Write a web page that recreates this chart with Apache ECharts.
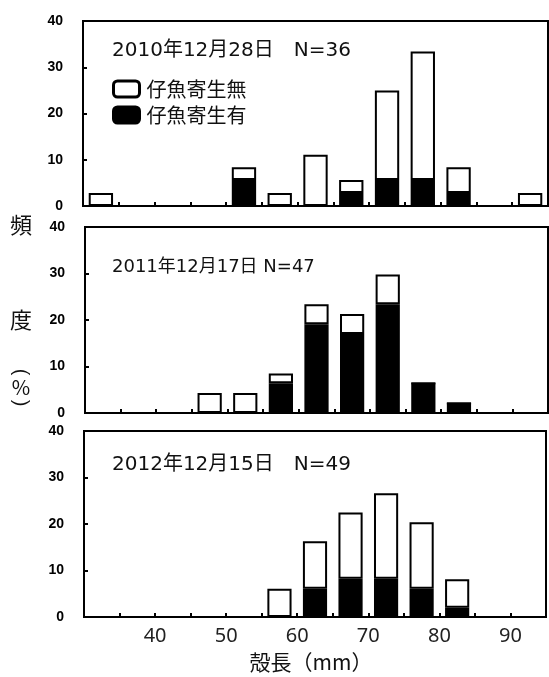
<!DOCTYPE html>
<html>
<head>
<meta charset="utf-8">
<script src="https://cdn.jsdelivr.net/npm/echarts@6/dist/echarts.min.js"></script>
<style>
html,body{margin:0;padding:0;background:#fff;}
#c{width:549px;height:677px;}
</style>
</head>
<body>
<div id="c"></div>
<script>
// size classes (mm), 5 mm bins
const categories = ['30-35','35-40','40-45','45-50','50-55','55-60','60-65','65-70','70-75','75-80','80-85','85-90','90-95'];
const xTickLabels = [40, 50, 60, 70, 80, 90];
const yTickLabels = [0, 10, 20, 30, 40];

const panelTitles = ['2010年12月28日　N=36', '2011年12月17日 N=47', '2012年12月15日　N=49'];

// % frequency, 仔魚寄生有 (with larval parasite)
const with2010 = [0, 0, 0, 0, 5.6, 0, 0, 2.8, 5.6, 5.6, 2.8, 0, 0];
const with2011 = [0, 0, 0, 0, 0, 6.4, 19.1, 17.0, 23.4, 6.4, 2.1, 0, 0];
const with2012 = [0, 0, 0, 0, 0, 0, 6.1, 8.2, 8.2, 6.1, 2.0, 0, 0];
// % frequency, 仔魚寄生無 (without larval parasite)
const without2010 = [2.8, 0, 0, 0, 2.8, 2.8, 11.1, 2.8, 19.4, 27.8, 5.6, 0, 2.8];
const without2011 = [0, 0, 0, 4.3, 4.3, 2.1, 4.3, 4.3, 6.4, 0, 0, 0, 0];
const without2012 = [0, 0, 0, 0, 0, 6.1, 10.2, 14.3, 18.4, 14.3, 6.1, 0, 0];

const withSets = [with2010, with2011, with2012];
const withoutSets = [without2010, without2011, without2012];

const NAME_WITH = '仔魚寄生有';
const NAME_WITHOUT = '仔魚寄生無';

const grids = [
  {left: 83, right: 1, top: 21, height: 185},
  {left: 85, right: 1, top: 227, height: 186},
  {left: 84, right: 1, top: 431, height: 186}
];
const titleY = [51, 267, 465];
const titleSize = [20, 18, 20];
const FONT_MIX = '"DejaVu Sans", "Noto Sans CJK JP", sans-serif';
const FONT_CJK = '"Noto Sans CJK JP", sans-serif';

const chart = echarts.init(document.getElementById('c'), null, {renderer: 'canvas'});

const xAxes = [], yAxes = [], series = [], graphics = [];
for (let i = 0; i < 3; i++) {
  xAxes.push({
    type: 'category', gridIndex: i, data: categories, boundaryGap: true,
    axisLine: {show: true, lineStyle: {color: '#000', width: 2}},
    axisTick: {show: true, inside: true, length: 4, interval: 0, alignWithLabel: false, lineStyle: {color: '#000', width: 2}},
    axisLabel: {show: false}, splitLine: {show: false}
  });
  yAxes.push({
    type: 'value', gridIndex: i, min: yTickLabels[0], max: yTickLabels[yTickLabels.length - 1], interval: 10,
    axisLine: {show: true, lineStyle: {color: '#000', width: 2}},
    axisTick: {show: true, inside: true, length: 4, lineStyle: {color: '#000', width: 2}},
    axisLabel: {show: true, margin: 20, color: '#000', fontSize: 14, fontWeight: 'bold', fontFamily: 'Liberation Sans'},
    splitLine: {show: false}
  });
  series.push({
    type: 'bar', name: NAME_WITH, stack: 'p' + i, xAxisIndex: i, yAxisIndex: i,
    data: withSets[i], barCategoryGap: '32%',
    itemStyle: {color: '#000', borderColor: '#000', borderWidth: 2}
  });
  series.push({
    type: 'bar', name: NAME_WITHOUT, stack: 'p' + i, xAxisIndex: i, yAxisIndex: i,
    data: withoutSets[i], barCategoryGap: '32%',
    itemStyle: {color: '#fff', borderColor: '#000', borderWidth: 2}
  });
  graphics.push({
    type: 'text', x: 112, y: titleY[i],
    style: {text: panelTitles[i], fill: '#111', fontSize: titleSize[i], fontFamily: FONT_MIX, align: 'left', verticalAlign: 'middle'}
  });
}
// label axis for bottom panel (bin boundaries)
xAxes.push({
  type: 'value', gridIndex: 2, position: 'bottom', min: 30, max: 95, interval: 5,
  axisLine: {show: false}, axisTick: {show: false}, splitLine: {show: false},
  axisLabel: {show: true, margin: 9, color: '#222', fontSize: 20, fontFamily: 'Noto Sans',
    formatter: v => xTickLabels.includes(v) ? String(v) : ''}
});

// y axis title 頻度（%）, vertical; parentheses turned sideways
const yNameParts = [['頻', 225, 22, 0], ['度', 320, 22, 0], ['(', 372, 20, -Math.PI / 2], ['%', 387, 20, 0], [')', 403, 20, -Math.PI / 2]];
yNameParts.forEach(([t, y, s, r]) => {
  graphics.push({
    type: 'text', x: 21, y: y, rotation: r,
    style: {text: t, fill: '#111', fontSize: s, fontFamily: t === '(' || t === ')' ? 'Liberation Sans' : FONT_CJK, align: 'center', verticalAlign: 'middle'}
  });
});
graphics.push({
  type: 'text', x: 311, y: 662,
  style: {text: '殻長（mm）', fill: '#111', fontSize: 21, fontFamily: FONT_CJK, align: 'center', verticalAlign: 'middle'}
});

chart.setOption({
  animation: false,
  backgroundColor: '#fff',
  grid: grids.map(g => Object.assign({show: true, borderColor: '#000', borderWidth: 2, backgroundColor: 'transparent'}, g)),
  xAxis: xAxes,
  yAxis: yAxes,
  legend: {
    show: true, orient: 'vertical', left: 112, top: 79, padding: 0,
    itemWidth: 26, itemHeight: 16, itemGap: 6,
    data: [NAME_WITHOUT, NAME_WITH],
    itemStyle: {borderColor: '#000', borderWidth: 3},
    textStyle: {fontSize: 20, color: '#111', fontFamily: FONT_CJK, padding: [0, 0, 0, 2]},
    selectedMode: false
  },
  series: series,
  graphic: graphics
});
</script>
</body>
</html>
